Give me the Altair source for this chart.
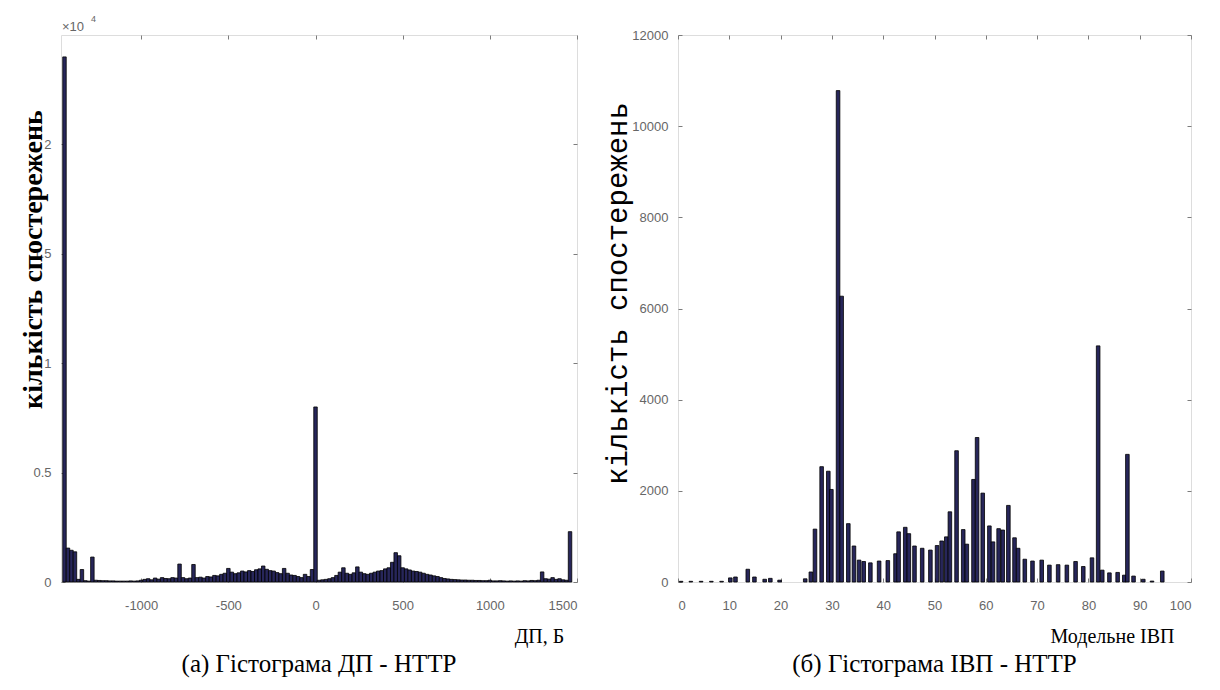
import altair as alt
import pandas as pd

# ---------------- data ----------------
# (a) histogram of packet size differences (ДП, bytes): bin centres every 20 B
left_centers = list(range(-1440, 1480, 20))
left_counts = [
    24000, 1550, 1450, 1380, 120, 570, 60, 40, 1140, 80,      # -1440 .. -1260
    70, 60, 60, 50, 50, 40, 40, 40, 40, 50,                   # -1240 .. -1060
    40, 50, 80, 120, 150, 100, 180, 130, 200, 160,            # -1040 .. -860
    150, 200, 180, 820, 200, 150, 180, 800, 200, 220,         # -840 .. -660
    180, 250, 230, 300, 280, 350, 400, 620, 450, 380,         # -640 .. -460
    420, 500, 460, 520, 480, 560, 600, 730, 580, 520,         # -440 .. -260
    500, 430, 380, 620, 400, 320, 300, 250, 200, 350,         # -240 .. -60
    250, 570, 8000, 80, 100, 120, 150, 200, 300, 450,         # -40 .. 140
    650, 400, 350, 420, 690, 450, 380, 350, 400, 450,         # 160 .. 340
    500, 520, 600, 650, 900, 1340, 1200, 650, 600, 550,       # 360 .. 540
    500, 480, 450, 400, 350, 320, 280, 250, 200, 160,         # 560 .. 740
    140, 120, 110, 100, 90, 90, 80, 80, 70, 70,               # 760 .. 940
    60, 60, 80, 50, 50, 60, 50, 40, 50, 40,                   # 960 .. 1140
    50, 40, 60, 50, 70, 60, 80, 460, 150, 130,                # 1160 .. 1340
    200, 120, 150, 100, 80, 2300,                             # 1360 .. 1460
]

# (б) histogram of modelled inter-arrival times (ІВП)
right_centers = [0.6, 2.5, 4.5, 6.5, 8.5, 10.2, 11.2, 13.6, 14.9, 16.9, 18.0, 19.8,
                 24.8, 25.9, 26.7, 28.0, 29.3, 29.9, 31.2, 31.9, 33.2, 34.3, 35.3,
                 36.2, 37.5, 39.2, 40.9, 42.4, 43.0, 44.3, 45.0, 46.1, 47.6, 49.2,
                 50.5, 51.4, 52.3, 53.0, 54.3, 55.6, 56.3, 57.6, 58.3, 59.4, 60.7,
                 61.4, 62.5, 63.3, 64.4, 65.6, 66.3, 67.6, 69.1, 70.9, 72.4, 74.1,
                 75.8, 77.5, 79.0, 80.7, 81.9, 82.7, 84.1, 85.7, 87.0, 87.6, 88.8,
                 90.7, 92.4, 94.4]
right_counts = [15, 15, 15, 15, 15, 90, 110, 280, 110, 60, 80, 40,
                70, 220, 1160, 2530, 2430, 2030, 10780, 6270, 1280, 790, 480,
                450, 420, 460, 470, 620, 1100, 1200, 1060, 790, 740, 700,
                800, 900, 990, 1540, 2880, 1150, 830, 2250, 3170, 1950, 1230,
                880, 1170, 1140, 1680, 970, 740, 500, 460, 480, 370, 380,
                370, 450, 340, 530, 5180, 260, 200, 210, 150, 2800, 130,
                60, 20, 240]

left_x_ticks = [-1000, -500, 0, 500, 1000, 1500]
left_y_ticks = [0, 5000, 10000, 15000, 20000]
right_x_ticks = [0, 10, 20, 30, 40, 50, 60, 70, 80, 90, 100]
right_y_ticks = [0, 2000, 4000, 6000, 8000, 10000, 12000]

left_caption = "(а) Гістограма ДП - HTTP"
right_caption = "(б) Гістограма ІВП - HTTP"
y_title = "кількість спостережень"
left_x_title = "ДП, Б"
right_x_title = "Модельне ІВП"
exp_base = ["×10"]
exp_power = ["4"]

LEFT_BIN = 20
RIGHT_BIN = 0.7

# ---------------- style ----------------
NAVY = "#27265a"
FRAME = "#7c7c7c"
LABEL = "#666666"
SANS = "Liberation Sans"
SERIF = "Liberation Serif"
MONO = "Liberation Mono"

left_df = pd.DataFrame({"c": left_centers, "n": left_counts})
left_df["x0"] = left_df["c"] - LEFT_BIN / 2
left_df["x1"] = left_df["c"] + LEFT_BIN / 2

right_df = pd.DataFrame({"c": right_centers, "n": right_counts})
right_df["x0"] = right_df["c"] - RIGHT_BIN / 2
right_df["x1"] = right_df["c"] + RIGHT_BIN / 2


def tick_axis(orient, values):
    return alt.Axis(orient=orient, values=values, labels=False, title=None,
                    domain=False, grid=False, ticks=True, tickSize=4,
                    offset=-4, tickColor=FRAME)


def panel(df, xdom, ydom, xticks, yticks, ylabel_expr, xtitle, xtitle_x,
          ytitle_font, ytitle_x, ytitle_y, ytitle_size, ytitle_weight,
          caption, w, h, extra=None):
    xs = alt.Scale(domain=xdom, nice=False, zero=False)
    ys = alt.Scale(domain=ydom, nice=False)
    yaxis_kw = dict(orient="left", values=yticks, grid=False, domain=False,
                    tickSize=4, offset=-4, tickColor=FRAME,
                    labelFont=SANS, labelFontSize=13, labelColor=LABEL,
                    labelPadding=10, labelExpr=ylabel_expr,
                    title=y_title, titleFont=ytitle_font, titleFontSize=ytitle_size,
                    titleFontWeight=ytitle_weight, titleColor="black",
                    titleAngle=-90, titleAlign="center", titleBaseline="middle",
                    titleX=ytitle_x, titleY=ytitle_y)
    bars = alt.Chart(df).mark_rect(fill=NAVY, stroke="black", strokeWidth=0.8).encode(
        x=alt.X("x0:Q", scale=xs, axis=alt.Axis(
            orient="bottom", values=xticks, grid=False, domain=False,
            tickSize=4, offset=-4, tickColor=FRAME,
            labelFont=SANS, labelFontSize=13, labelColor=LABEL, labelPadding=17,
            labelExpr="'' + datum.value",
            title=xtitle, titleFont=SERIF, titleFontSize=20, titleFontWeight="normal",
            titleColor="black", titleX=xtitle_x, titleY=58, titleAlign="center",
            titleBaseline="middle")),
        x2="x1:Q",
        y=alt.Y("n:Q", scale=ys, axis=alt.Axis(**yaxis_kw)),
        y2=alt.datum(0),
    )
    ghost = alt.Chart(df).mark_rect(opacity=0).encode(
        x=alt.X("x0:Q", axis=tick_axis("top", xticks)),
        x2="x1:Q",
        y=alt.Y("n:Q", axis=tick_axis("right", yticks)),
        y2=alt.datum(0),
    )
    layers = [bars, ghost]
    if extra is not None:
        layers.extend(extra)
    return alt.layer(*layers).resolve_axis(x="independent", y="independent").properties(
        width=w, height=h,
        title=alt.TitleParams(text=caption, orient="bottom", anchor="middle",
                              font=SERIF, fontSize=25, fontWeight="normal",
                              color="black", offset=6),
    )


exp_text = alt.Chart(pd.DataFrame({"t": exp_base})).mark_text(
    align="left", baseline="alphabetic", font=SANS, fontSize=13, color=LABEL
).encode(x=alt.value(1), y=alt.value(-4), text="t:N")
exp_pow = alt.Chart(pd.DataFrame({"t": exp_power})).mark_text(
    align="left", baseline="alphabetic", font=SANS, fontSize=9, color=LABEL
).encode(x=alt.value(30), y=alt.value(-13), text="t:N")

left = panel(left_df, [-1460, 1500], [0, 25000], left_x_ticks, left_y_ticks,
             "'' + datum.value / 10000", left_x_title, 478,
             SERIF, -32, 224, 28, "bold",
             left_caption, 516, 547, extra=[exp_text, exp_pow])
right = panel(right_df, [0, 100], [0, 12000], right_x_ticks, right_y_ticks,
              "'' + datum.value", right_x_title, 434,
              MONO, -65, 258, 29, "normal",
              right_caption, 513, 547)

chart = alt.hconcat(left, right, spacing=101, bounds="flush").properties(
    padding={"left": 10, "top": 6, "right": 5, "bottom": 5}
).configure_view(stroke=FRAME, strokeWidth=1).configure(background="white")

chart.save("out.html", embed_options={"renderer": "svg", "actions": False})
